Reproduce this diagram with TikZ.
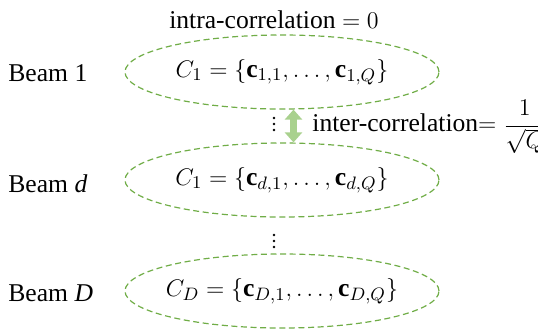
\documentclass[tikz,border=0pt]{standalone}
\usepackage{fontspec}
\setmainfont{Liberation Serif}
\usepackage{tikz}
\usetikzlibrary{
  arrows.meta,
  positioning,
  shapes.geometric
}
\definecolor{SetGreen}{HTML}{70AD47}
\definecolor{ArrowGreen}{HTML}{A9D18E}

\tikzset{
  beamset/.style={ellipse,draw=SetGreen,dashed,dash pattern=on 3pt off 1.8pt,
    line width=0.6pt,minimum width=157pt,minimum height=37pt,inner sep=-8pt,
    font=\fontsize{12.8}{15}\selectfont},
  beamlabel/.style={anchor=west,inner sep=0pt,font=\fontsize{12.8}{15}\selectfont},
  interarrow/.style={draw=ArrowGreen,line width=3.5pt,
    {Triangle[width=8.5pt,length=5pt,fill=ArrowGreen]}-{Triangle[width=8.5pt,length=5pt,fill=ArrowGreen]}}
}

\begin{document}
\begin{tikzpicture}[x=0.5pt,y=-0.5pt]
        \useasboundingbox (0,0) rectangle (538,329);
        % the three beams
        \node[beamset] (set1) at (282,72)  {$C_1 = \{\mathbf{c}_{1,1}, \dots, \mathbf{c}_{1,Q}\}$};
        \node[beamset] (set2) at (282,180) {$C_1 = \{\mathbf{c}_{d,1}, \dots, \mathbf{c}_{d,Q}\}$};
        \node[beamset] (set3) at (282,291) {$C_D = \{\mathbf{c}_{D,1}, \dots, \mathbf{c}_{D,Q}\}$};
        \node[beamlabel] (beam1) at (8,73)  {Beam 1};
        \node[beamlabel] (beamd) at (8,184) {Beam \textit{d}};
        \node[beamlabel] (beamD) at (8,293) {Beam \textit{D}};
        % correlations
        \node[beamlabel,anchor=center] (intra) at (274,20) {intra-correlation $= 0$};
        \foreach \y in {118,124,130} {\fill (274,\y) circle (1.3);}
        \foreach \y in {235,241,247} {\fill (274,\y) circle (1.3);}
        \coordinate (ax) at (293.5,0);
        \draw[interarrow] (set1.south -| ax) -- (set2.north -| ax);
        \node[beamlabel] (inter) at (312,127) {inter-correlation$= \displaystyle\frac{1}{\sqrt{Q}}$};
      \end{tikzpicture}
\end{document}
